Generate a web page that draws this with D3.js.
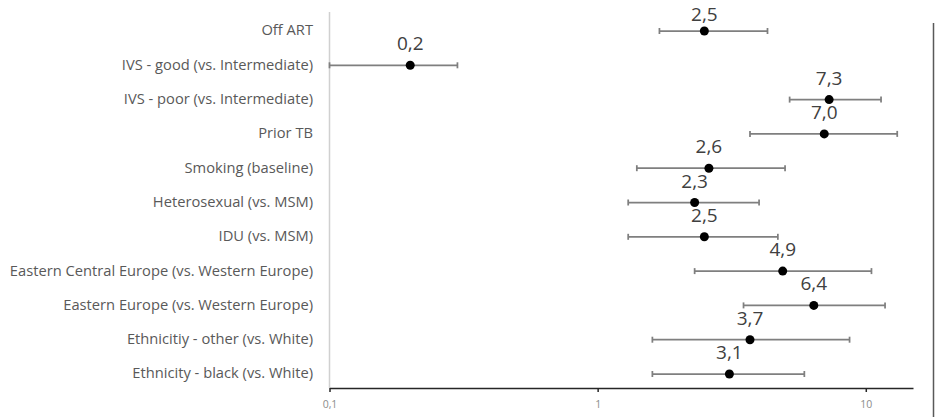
<!DOCTYPE html>
<html>
<head>
<meta charset="utf-8">
<script src="https://cdn.jsdelivr.net/npm/d3@7"></script>
<style>
  html, body { margin: 0; padding: 0; background: #fff; }
  svg { display: block; }
</style>
</head>
<body>
<svg id="chart" width="940" height="417"></svg>
<script>
// Risk factors (top to bottom) with odds ratio and 95% CI
const categories = [
  "Off ART",
  "IVS - good (vs. Intermediate)",
  "IVS - poor (vs. Intermediate)",
  "Prior TB",
  "Smoking (baseline)",
  "Heterosexual (vs. MSM)",
  "IDU (vs. MSM)",
  "Eastern Central Europe (vs. Western Europe)",
  "Eastern Europe (vs. Western Europe)",
  "Ethnicitiy - other (vs. White)",
  "Ethnicity - black (vs. White)"
];
const estimates = [2.5, 0.2, 7.3, 7.0, 2.6, 2.3, 2.5, 4.9, 6.4, 3.7, 3.1];
const lowerCI   = [1.7, 0.1, 5.2, 3.7, 1.4, 1.3, 1.3, 2.3, 3.5, 1.6, 1.6];
const upperCI   = [4.3, 0.3, 11.4, 13.1, 5.0, 4.0, 4.7, 10.5, 11.8, 8.7, 5.9];
const xTicks    = [0.1, 1, 10];
const xDomain   = [0.1, 15];

const rows = categories.map((c, i) => ({
  name: c, est: estimates[i], lo: lowerCI[i], hi: upperCI[i]
}));

const svg = d3.select("#chart");
const fontFamily = "'Open Sans', 'Noto Sans', sans-serif";

const x = d3.scaleLog().domain(xDomain).range([329.5, 913]);
const y = d3.scalePoint().domain(categories).range([31, 374]);
const axisY = 388;

// comma-decimal number format
const locale = d3.formatLocale({ decimal: ",", thousands: ".", grouping: [3], currency: ["", "€"] });
const fmtVal = locale.format(".1f");
const fmtTick = v => String(v).replace(".", ",");

// outer frame line on the right
svg.append("line")
  .attr("x1", 933.5).attr("x2", 933.5)
  .attr("y1", 23).attr("y2", 417)
  .attr("stroke", "#595959").attr("stroke-width", 1.5);

// vertical category axis line
svg.append("line")
  .attr("x1", x(xDomain[0])).attr("x2", x(xDomain[0]))
  .attr("y1", 12).attr("y2", axisY)
  .attr("stroke", "#d0d0d0").attr("stroke-width", 1.5);

// category labels
svg.append("g").selectAll("text")
  .data(rows).join("text")
  .attr("x", 313)
  .attr("y", d => y(d.name))
  .attr("dy", "0.3em")
  .attr("text-anchor", "end")
  .attr("font-family", fontFamily)
  .attr("font-size", 14.7)
  .attr("fill", "#595959")
  .text(d => d.name);

// bottom log axis
const xAxis = d3.axisBottom(x)
  .tickValues(xTicks)
  .tickFormat(fmtTick)
  .tickSizeInner(4)
  .tickSizeOuter(0)
  .tickPadding(9);
const gx = svg.append("g")
  .attr("transform", `translate(0,${axisY})`)
  .call(xAxis);
gx.select(".domain").attr("stroke", "#262626").attr("stroke-width", 1.5);
gx.selectAll(".tick line").attr("stroke", "#262626").attr("stroke-width", 1.5);
gx.selectAll(".tick text")
  .attr("font-family", fontFamily)
  .attr("font-size", 10.5)
  .attr("fill", "#8c8c8c");

// confidence interval bars
const bars = svg.append("g").selectAll("g")
  .data(rows).join("g")
  .attr("stroke", "#7f7f7f")
  .attr("stroke-width", 1.75);
bars.append("line")
  .attr("x1", d => x(d.lo)).attr("x2", d => x(d.hi))
  .attr("y1", d => y(d.name)).attr("y2", d => y(d.name));
bars.append("line")
  .attr("x1", d => x(d.lo)).attr("x2", d => x(d.lo))
  .attr("y1", d => y(d.name) - 3).attr("y2", d => y(d.name) + 3);
bars.append("line")
  .attr("x1", d => x(d.hi)).attr("x2", d => x(d.hi))
  .attr("y1", d => y(d.name) - 3).attr("y2", d => y(d.name) + 3);

// point estimates
svg.append("g").selectAll("circle")
  .data(rows).join("circle")
  .attr("cx", d => x(d.est))
  .attr("cy", d => y(d.name))
  .attr("r", 4.5)
  .attr("fill", "#000");

// value labels above points
svg.append("g").selectAll("text")
  .data(rows).join("text")
  .attr("x", d => x(d.est))
  .attr("y", d => Math.max(y(d.name) - 15, 21))
  .attr("text-anchor", "middle")
  .attr("font-family", fontFamily)
  .attr("font-size", 19)
  .attr("fill", "#404040")
  .text(d => fmtVal(d.est));
</script>
</body>
</html>
